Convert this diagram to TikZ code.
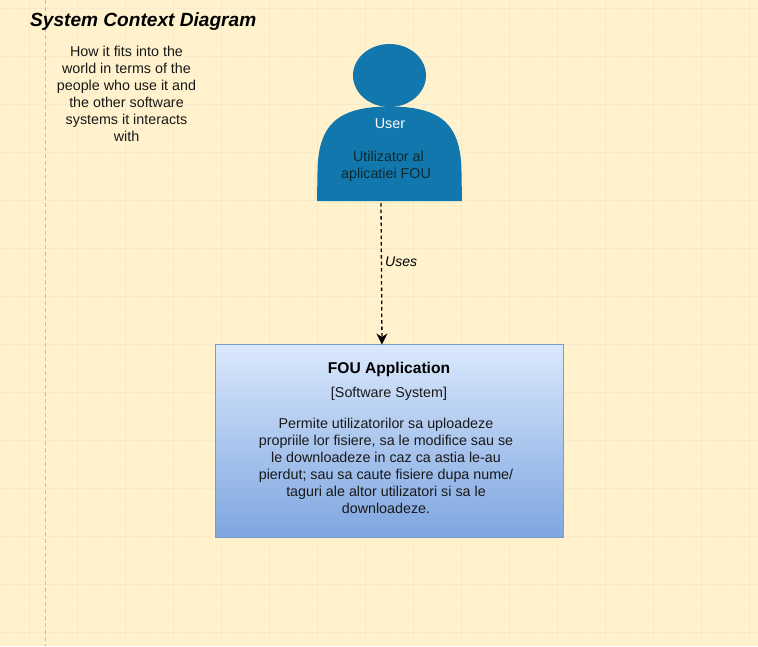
\documentclass[tikz,border=0pt]{standalone}
\usepackage{fontspec}
\setmainfont{Liberation Sans}
\usetikzlibrary{arrows.meta}
\definecolor{bgc}{HTML}{FFF2CC}
\definecolor{minorc}{HTML}{FCEFCE}
\definecolor{majorc}{HTML}{F5EBD0}
\definecolor{userc}{HTML}{1277AD}
\definecolor{darktxt}{HTML}{0B2A30}
\definecolor{boxtop}{HTML}{DAE8FC}
\definecolor{boxbot}{HTML}{7EA6E0}
\definecolor{boxedge}{HTML}{7C9CCB}
\definecolor{guidec}{HTML}{C4BDB0}
\tikzset{
  x=1pt,y=-1pt,
  body text/.style={font=\fontsize{14.3}{17}\selectfont,align=center,inner sep=0pt,text=black!90},
  person/.style={fill=userc,draw=none},
  sysbox/.style={draw=boxedge,line width=1pt,top color=boxtop,bottom color=boxbot,minimum width=348pt,minimum height=192.5pt,inner sep=0pt},
  relation/.style={draw=black,line width=1.3pt,dash pattern=on 3.5pt off 3pt,-{Stealth[length=11pt,width=11pt,inset=3.5pt]}},
}
\begin{document}
\begin{tikzpicture}
\useasboundingbox (0,0) rectangle (758,646);
\fill[bgc] (0,0) rectangle (758,646);
% minor grid
\foreach \i in {0,...,63}{\draw[minorc,line width=0.6pt] ({5+12*\i},0) -- ({5+12*\i},646);}
\foreach \i in {0,...,53}{\draw[minorc,line width=0.6pt] (0,{8+12*\i}) -- (758,{8+12*\i});}
% major grid
\foreach \i in {0,...,15}{\draw[majorc,line width=0.8pt] ({29+48*\i},0) -- ({29+48*\i},646);}
\foreach \i in {0,...,13}{\draw[majorc,line width=0.8pt] (0,{8+48*\i}) -- (758,{8+48*\i});}
% guide
\draw[guidec,line width=0.8pt,dash pattern=on 4pt off 3pt] (45.5,0) -- (45.5,646);
% title and description
\node[anchor=west,inner sep=0pt,font=\fontsize{19.1}{22}\selectfont\bfseries\itshape] (title) at (30,22) {System Context Diagram};
\node[body text] (descr) at (126.5,93.7) {How it fits into the\\world in terms of the\\people who use it and\\the other software\\systems it interacts\\with};
% person
\fill[person] (389.5,75.5) ellipse [x radius=36.5,y radius=31.5];
\fill[person] (317,201) -- (317.5,172) .. controls (318,126) and (336,106.5) .. (389.5,106.5)
   .. controls (443,106.5) and (461,126) .. (461.5,172) -- (462,201) -- cycle;
\node[body text,text=white] (username) at (390,123.5) {User};
\node[body text,text=darktxt] (userdescr) at (386,166.5) {\hspace*{5pt}Utilizator al\\aplicatiei FOU};
\coordinate (userfoot) at (381,203);
% system
\node[sysbox] (system) at (389.5,440.75) {};
\node[inner sep=0pt,font=\fontsize{15.6}{18}\selectfont\bfseries] (sysname) at (389,369) {FOU Application};
\node[body text] (systype) at (389,394) {[Software System]};
\node[body text] (sysdescr) at (386,465.7) {Permite utilizatorilor sa uploadeze\\propriile lor fisiere, sa le modifice sau se\\le downloadeze in caz ca astia le-au\\pierdut; sau sa caute fisiere dupa nume/\\taguri ale altor utilizatori si sa le\\downloadeze.};
% relation
\coordinate (systop) at (382,344.5);
\draw[relation] (userfoot) -- (systop);
\node[anchor=west,inner sep=0pt,font=\fontsize{14}{16}\selectfont\itshape] (uses) at (385,261.5) {Uses};
\end{tikzpicture}
\end{document}
